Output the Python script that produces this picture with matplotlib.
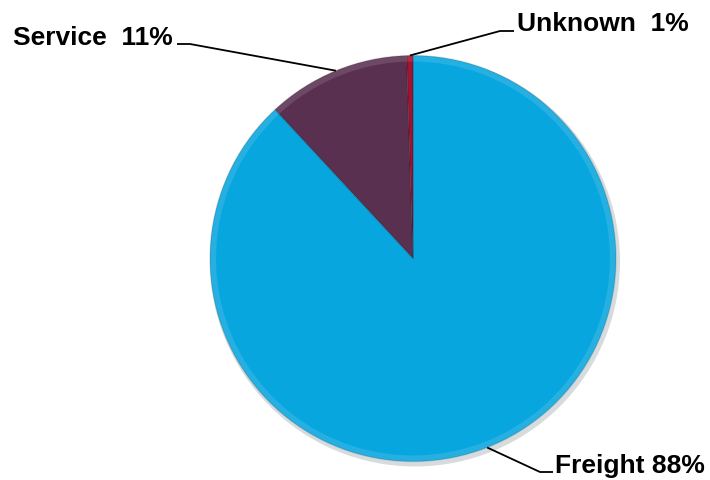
import numpy as np
import matplotlib.pyplot as plt
from matplotlib.patches import Wedge

# Shares of the pie (counterclockwise from 12 o'clock)
categories = ['Unknown', 'Service', 'Freight']
values = [0.5, 11.4, 88.1]
labels = ['Unknown  1%', 'Service  11%', 'Freight 88%']
colors = ['#A3122E', '#5A3050', '#08A6DF']


def main():
    W, H = 710, 481
    fig = plt.figure(figsize=(W / 100, H / 100), dpi=100)
    ax = fig.add_axes([0, 0, 1, 1])

    cx, cy, r = 413, 481 - 259.5, 203

    # soft drop shadow
    ax.add_patch(plt.Circle((cx + 2, cy - 3), r + 2, color='#7a8a94', alpha=0.3, lw=0))

    wedges, _ = ax.pie(values, colors=colors, startangle=90, counterclock=True,
                       center=(cx, cy), radius=r, frame=True,
                       wedgeprops=dict(edgecolor='none', linewidth=0))
    ax.set_xlim(0, W)
    ax.set_ylim(0, H)
    ax.set_aspect('equal')
    ax.axis('off')

    # bevel-ish rim on each wedge
    for w, c in zip(wedges, colors):
        ax.add_patch(Wedge((cx, cy), r, w.theta1, w.theta2, width=6,
                           facecolor='white', alpha=0.12, lw=0))
        ax.add_patch(Wedge((cx, cy), r, w.theta1, w.theta2, fill=False,
                           edgecolor='#000000', alpha=0.12, lw=1.0))

    # label positions (text anchor, elbow point, line end, alignment)
    text_pos = {
        'Unknown': ((517, 481 - 24), (500, 481 - 32), (514, 481 - 32), 'left'),
        'Service': ((173, 481 - 38), (190, 481 - 45), (177, 481 - 45), 'right'),
        'Freight': ((555, 481 - 466), (540, 481 - 473), (553, 481 - 473), 'left'),
    }
    for w, cat, lab in zip(wedges, categories, labels):
        mid = np.deg2rad((w.theta1 + w.theta2) / 2)
        ax_, ay_ = cx + r * np.cos(mid), cy + r * np.sin(mid)
        (tx, ty), (ex, ey), (hx, hy), ha = text_pos[cat]
        ax.plot([ax_, ex, hx], [ay_, ey, hy], color='black', lw=1.3,
                solid_capstyle='butt')
        ax.text(tx, ty, lab, ha=ha, va='center', fontsize=19,
                fontweight='bold', family='Liberation Sans', color='black')

    fig.savefig('out.png', dpi=100)


if __name__ == '__main__':
    main()
